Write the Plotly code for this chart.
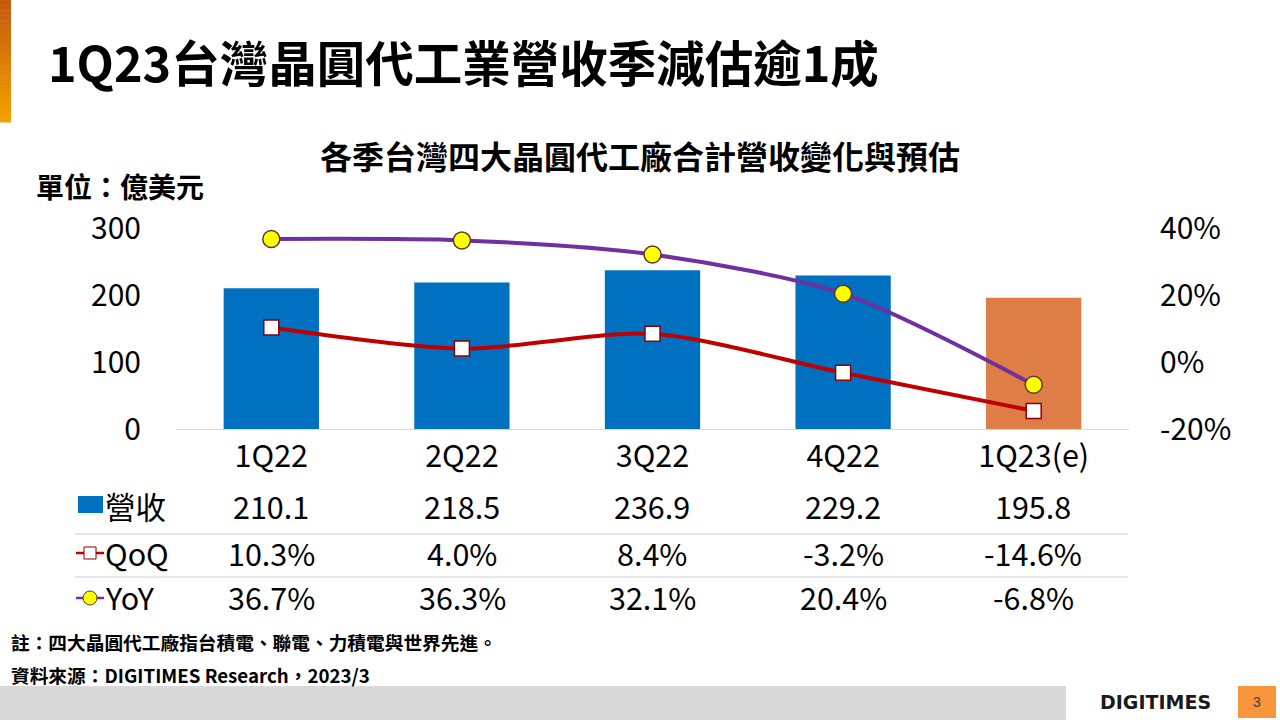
import plotly.graph_objects as go

categories = ["1Q22", "2Q22", "3Q22", "4Q22", "1Q23(e)"]
revenue = [210.1, 218.5, 236.9, 229.2, 195.8]
qoq = [10.3, 4.0, 8.4, -3.2, -14.6]
yoy = [36.7, 36.3, 32.1, 20.4, -6.8]
left_ticks = [0, 100, 200, 300]
right_ticks = [-20, 0, 20, 40]

W, H = 1280, 720
FONT = "Noto Sans CJK TC, Microsoft JhengHei, sans-serif"
BLUE = "#0070C0"
ORANGE = "#DE7D45"
RED = "#C00000"
PURPLE = "#7030A0"

def px(x):
    return x / W

def py(y):
    return 1 - y / H

def note(text, x, y, size, xanchor="left", color="black", family=FONT):
    return dict(text=text, x=px(x), y=py(y), xref="paper", yref="paper",
                xanchor=xanchor, yanchor="middle", showarrow=False,
                font=dict(size=size, color=color, family=family))

def box(x0, x1, y0, y1, fill, line=None):
    return dict(type="rect", xref="paper", yref="paper", x0=px(x0), x1=px(x1),
                y0=py(y1), y1=py(y0), fillcolor=fill, layer="above",
                line=line if line else dict(width=0))

fig = go.Figure()

bar_colors = [BLUE] * (len(categories) - 1) + [ORANGE]
fig.add_trace(go.Bar(x=categories, y=revenue, marker=dict(color=bar_colors, line=dict(width=0)),
                     name="營收", yaxis="y", showlegend=False))
fig.add_trace(go.Scatter(x=categories, y=qoq, yaxis="y2", mode="lines+markers", name="QoQ",
                         line=dict(color=RED, width=4, shape="spline", smoothing=0.8),
                         marker=dict(symbol="square", size=15, color="white",
                                     line=dict(color="#8B0000", width=1.5)),
                         showlegend=False))
fig.add_trace(go.Scatter(x=categories, y=yoy, yaxis="y2", mode="lines+markers", name="YoY",
                         line=dict(color=PURPLE, width=4, shape="spline", smoothing=0.8),
                         marker=dict(symbol="circle", size=17, color="#FFFF00",
                                     line=dict(color="#5B3A29", width=1.5)),
                         showlegend=False))

annotations = []
shapes = []

# Left orange gradient bar
top_c = (197, 90, 17)
bot_c = (245, 160, 0)
n = 24
for i in range(n):
    t = i / (n - 1)
    c = tuple(int(top_c[k] + (bot_c[k] - top_c[k]) * t) for k in range(3))
    shapes.append(box(0, 11, 122 * i / n, 122 * (i + 1) / n + 0.5, "rgb(%d,%d,%d)" % c))

# Titles
annotations.append(note("<b>1Q23台灣晶圓代工業營收季減估逾1成</b>", 46, 61, 48.5))
annotations.append(note("<b>各季台灣四大晶圓代工廠合計營收變化與預估</b>", 640, 155, 32, xanchor="center"))
annotations.append(note("<b>單位：億美元</b>", 34, 186, 28))

# Table
col_x = [271, 462, 652, 843, 1033]
row_y = [507, 554, 598]
rows = [["%.1f" % v for v in revenue],
        ["%.1f%%" % v for v in qoq],
        ["%.1f%%" % v for v in yoy]]
for r, vals in enumerate(rows):
    for c, v in enumerate(vals):
        annotations.append(note(v, col_x[c], row_y[r] - 1, 30.5, xanchor="center"))
labels = ["營收", "QoQ", "YoY"]
for r, lab in enumerate(labels):
    annotations.append(note(lab, 103, row_y[r] - 1, 30.5))

# legend icons
shapes.append(box(78, 103, 496, 513, BLUE))
shapes.append(dict(type="line", xref="paper", yref="paper", x0=px(76), x1=px(104),
                   y0=py(553), y1=py(553), line=dict(color=RED, width=2.5)))
shapes.append(box(84, 96, 547, 559, "white", dict(color="#8B0000", width=1)))
shapes.append(dict(type="line", xref="paper", yref="paper", x0=px(76), x1=px(104),
                   y0=py(598), y1=py(598), line=dict(color=PURPLE, width=2.5)))
shapes.append(dict(type="circle", xref="paper", yref="paper", x0=px(83), x1=px(97),
                   y0=py(605), y1=py(591), fillcolor="#FFFF00", line=dict(color="#5B3A29", width=1)))
for yy in [534, 577]:
    shapes.append(dict(type="line", xref="paper", yref="paper", x0=px(75), x1=px(1128),
                       y0=py(yy), y1=py(yy), line=dict(color="#D0D0D0", width=1)))

# Notes
annotations.append(note("<b>註：四大晶圓代工廠指台積電、聯電、力積電與世界先進。</b>", 9, 641, 18.7))
annotations.append(note("<b>資料來源：DIGITIMES Research，2023/3</b>", 9, 674, 18.7))

# Footer
shapes.append(box(0, 1066, 686, 720, "#D9D9D9"))
shapes.append(box(1238, 1276, 686, 718, "#F7963B"))
annotations.append(note("3", 1257, 702, 14, xanchor="center", color="#404040", family="Arial"))
annotations.append(note("<b>DIGITIMES</b>", 1155, 702, 19, xanchor="center", color="#1a1a1a",
                        family="DejaVu Sans"))

fig.update_layout(
    width=W, height=H,
    margin=dict(l=0, r=0, t=0, b=0, pad=0),
    paper_bgcolor="white", plot_bgcolor="white",
    bargap=0.5,
    font=dict(family=FONT, color="black"),
    xaxis=dict(domain=[px(176), px(1129)], showline=True, linecolor="#D9D9D9", linewidth=1,
               showgrid=False, zeroline=False, ticks="", tickfont=dict(size=30.5, color="black"),
               ticklabelstandoff=0, automargin=False),
    yaxis=dict(domain=[py(429), py(228)], range=[0, 300], tickvals=left_ticks,
               showgrid=False, zeroline=False, showline=False, ticks="",
               tickfont=dict(size=30, color="black"), ticklabelstandoff=34, automargin=False),
    yaxis2=dict(overlaying="y", side="right", range=[-20, 40], tickvals=right_ticks,
                ticktext=["%d%%" % v for v in right_ticks],
                showgrid=False, zeroline=False, showline=False, ticks="",
                tickfont=dict(size=30, color="black"), ticklabelstandoff=30, automargin=False),
    annotations=annotations, shapes=shapes,
)

fig.write_html("out.html")
